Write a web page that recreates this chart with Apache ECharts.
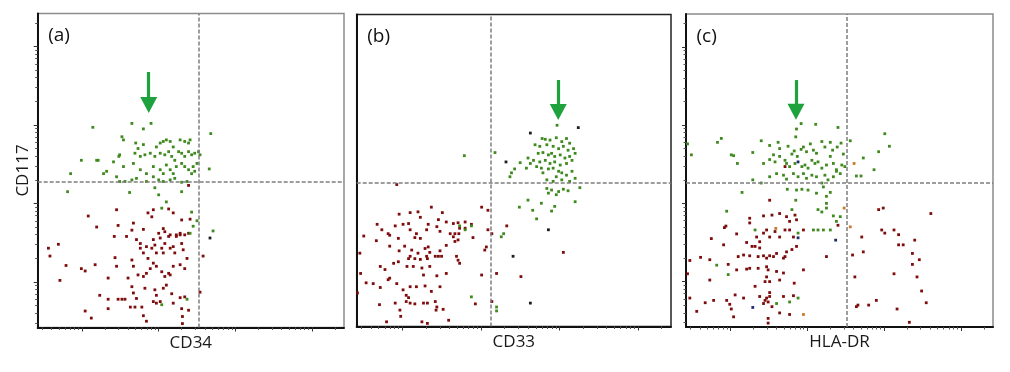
<!DOCTYPE html>
<html><head><meta charset="utf-8">
<script src="https://cdn.jsdelivr.net/npm/echarts@6/dist/echarts.min.js"></script>
<style>html,body{margin:0;padding:0;background:#fff}#c{width:1010px;height:372px}</style>
</head><body><div id="c"></div>
<script>
// ---- data (values in log10 decades of fluorescence intensity) ----
const panelLabels = ['(a)', '(b)', '(c)'];
const xNames = ['CD34', 'CD33', 'HLA-DR'];
const yName = 'CD117';
const axisMin = 0.42, axisMax = 4.42;
const decades = [0, 1, 2, 3, 4];
const multipliers = [1, 2, 3, 4, 5, 6, 7, 8, 9];
const gateX = [2.52, 2.12, 2.51];
const gateY = [2.28, 2.26, 2.26];
const arrowX = [1.87, 2.985, 1.853];
const arrowTop = [3.675, 3.58, 3.576];
const arrowHead = [3.254, 3.17, 3.17];

const aGreen = [[1.14,2.97],[1.65,3.02],[1.80,2.95],[1.90,3.02],[2.68,2.89],[1.52,2.85],[1.54,2.81],[1.70,2.77],[1.80,2.75],[1.73,2.70],[1.97,2.72],[2.02,2.77],[2.06,2.79],[2.10,2.81],[2.15,2.79],[2.19,2.72],[2.28,2.81],[2.34,2.79],[2.39,2.77],[2.41,2.81],
[0.99,2.55],[1.19,2.55],[1.21,2.55],[1.41,2.53],[1.48,2.60],[1.49,2.62],[1.69,2.64],[1.76,2.60],[1.82,2.62],[1.89,2.64],[1.95,2.60],[2.02,2.64],[2.08,2.62],[2.13,2.66],[2.17,2.60],[2.21,2.55],[2.26,2.66],[2.30,2.64],[2.34,2.60],[2.39,2.66],[2.43,2.62],[2.47,2.64],[2.52,2.66],[2.54,2.62],[2.50,2.51],[2.45,2.47],
[1.54,2.47],[1.67,2.51],[1.76,2.43],[1.84,2.38],[1.93,2.47],[2.02,2.43],[2.06,2.38],[2.10,2.49],[2.15,2.43],[2.19,2.38],[2.23,2.47],[2.30,2.51],[2.34,2.47],[2.39,2.43],[2.43,2.38],[2.47,2.41],
[0.85,2.38],[1.28,2.38],[1.32,2.41],[1.45,2.34],[1.49,2.28],[1.56,2.28],[1.65,2.30],[1.71,2.32],[1.84,2.28],[1.93,2.34],[2.00,2.30],[2.06,2.28],[2.15,2.30],[2.21,2.32],[2.30,2.27],[2.37,2.28],[2.66,2.44],
[0.81,2.15],[1.62,2.14],[1.95,2.20],[2.00,2.11],[2.30,2.15],[2.10,2.02],[2.04,1.94],[2.43,1.89],[2.50,1.78],[2.45,1.71],[2.41,1.62],[2.71,1.65],[2.37,0.78],[2.04,0.71]];
const aRed = [[2.39,2.23],[1.45,1.92],[1.08,1.84],[1.19,1.70],[1.47,1.72],[1.67,1.75],[1.80,1.67],[1.86,1.88],[1.93,1.92],[1.91,1.83],[2.13,1.93],[2.19,1.88],[2.30,1.79],[2.41,1.80],[2.06,1.68],[2.08,1.64],[2.15,1.60],[2.23,1.60],[2.28,1.60],[2.34,1.60],[2.39,1.62],
[0.56,1.43],[0.69,1.48],[0.58,1.33],[0.79,1.21],[0.71,1.02],[0.99,1.17],[1.04,1.14],[1.17,1.22],[1.34,1.05],[1.23,0.83],[1.34,0.78],[1.34,0.66],[1.47,0.78],[1.52,0.78],[1.56,0.78],[1.63,0.68],[1.69,0.68],[1.78,0.68],[1.04,0.63],[1.12,0.54],[1.80,0.57],[1.84,0.50],
[1.42,1.58],[1.43,1.31],[1.45,1.20],[1.58,1.58],[1.65,1.66],[1.65,1.28],[1.71,1.54],[1.76,1.49],[1.76,1.43],[1.80,1.37],[1.84,1.45],[1.86,1.30],[1.91,1.43],[1.93,1.54],[1.95,1.47],[1.97,1.37],[2.00,1.62],[2.02,1.56],[2.04,1.43],[2.06,1.37],[2.08,1.49],[2.13,1.58],[2.15,1.43],[2.19,1.45],[2.21,1.37],[2.23,1.58],[2.28,1.62],[2.30,1.49],[2.32,1.41],[2.37,1.30],[2.34,1.17],[2.28,1.22],[2.19,1.20],[2.13,1.11],[2.08,1.07],[2.04,1.13],[1.97,1.20],[1.93,1.24],[1.89,1.17],[1.84,1.11],[1.80,1.07],[1.73,1.09],[1.67,1.20],
[1.65,0.94],[1.67,0.86],[1.82,0.92],[1.95,0.90],[1.97,0.83],[2.06,0.92],[2.10,0.96],[2.15,1.09],[2.17,0.85],[2.19,0.73],[2.28,0.80],[2.34,0.81],[2.30,0.66],[2.39,0.64],[2.31,0.56],[2.31,0.47],[1.93,0.75],[1.97,0.73],[2.02,0.75],[1.71,0.79],[1.60,1.05],[2.58,1.33],[2.54,0.87]];
const aDark = [[2.67,1.56]];

const bGreen = [[2.97,3.00],[2.78,2.83],[2.82,2.82],[2.88,2.81],[2.96,2.84],[3.03,2.79],[3.09,2.83],[3.13,2.77],[2.69,2.75],[2.75,2.73],[2.84,2.75],[2.92,2.73],[2.99,2.70],[3.05,2.73],[3.11,2.68],[3.18,2.70],
[2.73,2.64],[2.79,2.65],[2.86,2.62],[2.90,2.64],[2.94,2.60],[3.01,2.62],[3.07,2.58],[3.13,2.60],[3.20,2.64],[2.60,2.58],[2.67,2.55],[2.75,2.53],[2.82,2.55],[2.88,2.51],[2.94,2.53],[3.01,2.49],[3.09,2.51],[3.16,2.55],
[2.63,2.51],[2.71,2.47],[2.77,2.45],[2.86,2.44],[2.92,2.45],[2.99,2.41],[3.03,2.39],[3.09,2.36],[3.16,2.41],[2.58,2.45],[2.79,2.39],[2.84,2.30],[2.92,2.28],[2.96,2.34],[3.03,2.30],[3.13,2.28],[3.20,2.32],
[2.84,2.19],[2.90,2.17],[2.99,2.15],[3.05,2.18],[3.11,2.16],[3.26,2.20],[2.86,2.13],[2.96,2.11],[2.50,2.52],[2.39,2.39],[2.43,2.44],[2.37,2.34],[2.18,2.65],[1.79,2.61],
[2.60,2.04],[2.66,1.91],[2.71,1.80],[2.77,2.00],[2.90,1.90],[2.94,1.96],[3.20,2.02],[2.49,1.95],[2.29,1.61],[2.26,1.57],[1.88,0.80],[2.20,0.67],[2.20,0.62],[1.73,1.71],[1.80,1.66],[1.88,1.71]];
const bRed = [[2.33,1.71],[2.51,1.06],[3.05,1.37],[0.93,2.24],[2.01,1.95],[2.09,1.91],[2.14,1.61],[2.09,1.66],[2.07,1.44],[2.05,1.40],[2.01,1.08],[2.20,1.10],[2.14,0.74],[1.93,0.71],
[0.96,1.86],[1.10,1.88],[1.20,1.89],[1.23,1.82],[1.37,1.95],[1.51,1.88],[1.46,1.79],[1.56,1.76],[1.65,1.74],[1.71,1.75],[1.80,1.76],[1.73,1.68],[1.80,1.68],[1.88,1.73],[1.90,1.56],[1.72,1.61],
[0.68,1.73],[0.74,1.66],[0.82,1.61],[0.84,1.59],[0.91,1.71],[1.01,1.73],[1.08,1.74],[1.10,1.66],[1.18,1.61],[1.16,1.56],[1.23,1.55],[1.31,1.66],[1.33,1.73],[1.44,1.70],[1.48,1.64],[1.61,1.61],[1.65,1.57],[1.67,1.61],[1.71,1.53],
[0.51,1.58],[0.67,1.52],[0.84,1.45],[0.95,1.55],[0.96,1.39],[1.03,1.45],[1.12,1.40],[1.20,1.36],[1.29,1.42],[1.33,1.44],[1.35,1.37],[1.42,1.32],[1.46,1.32],[1.48,1.39],[1.56,1.46],[1.67,1.51],[1.69,1.32],[1.71,1.27],[1.73,1.23],[1.50,1.32],[1.10,1.32],[1.16,1.29],[1.23,1.28],[1.31,1.32],[1.32,1.29],
[0.46,1.36],[0.72,1.19],[0.78,1.15],[0.89,1.23],[0.95,1.25],[1.06,1.19],[1.08,1.29],[1.14,1.19],[1.25,1.17],[1.27,1.08],[1.35,1.19],[1.44,1.07],[1.48,0.93],[1.56,1.10],
[0.47,1.10],[0.54,0.98],[0.63,0.97],[0.72,0.92],[0.82,1.02],[0.84,1.04],[0.93,0.97],[1.01,0.89],[1.10,0.93],[1.18,0.93],[1.29,0.94],[1.37,0.87],
[0.43,0.85],[0.71,0.70],[0.91,0.72],[0.97,0.63],[1.05,0.82],[1.08,0.79],[1.10,0.72],[1.16,0.71],[1.27,0.72],[1.32,0.72],[1.42,0.74],[1.44,0.67],[1.52,0.64],[1.59,0.50],[0.80,0.48],[0.98,0.55],[1.25,0.48],[1.32,0.46],[1.43,0.63],[1.05,0.74]];
const bDark = [[3.24,2.97],[2.63,2.90],[2.32,2.53],[2.86,1.66],[2.63,0.72],[2.41,1.32]];

const cGreen = [[1.86,2.95],[1.92,3.02],[2.11,3.01],[2.40,2.97],[1.85,2.85],[3.01,2.89],[3.07,2.73],[0.88,2.83],[0.83,2.78],[0.49,2.62],[0.44,2.76],
[1.01,2.62],[1.04,2.61],[1.09,2.51],[1.29,2.65],[1.40,2.80],[1.51,2.74],[1.56,2.62],[1.62,2.78],[1.64,2.70],[1.75,2.73],[1.80,2.63],[1.83,2.67],[1.87,2.60],[1.92,2.69],[1.95,2.72],[1.99,2.66],[2.04,2.76],[2.08,2.68],[2.12,2.64],[2.19,2.79],[2.23,2.72],[2.30,2.78],[2.33,2.68],[2.39,2.72],[2.44,2.77],[2.56,2.80],[2.47,2.63],
[1.43,2.51],[1.51,2.56],[1.58,2.53],[1.64,2.60],[1.71,2.55],[1.73,2.51],[1.77,2.47],[1.84,2.51],[1.93,2.47],[1.97,2.49],[2.01,2.45],[2.06,2.55],[2.10,2.51],[2.14,2.53],[2.19,2.45],[2.25,2.49],[2.30,2.60],[2.34,2.51],[2.38,2.43],[2.45,2.49],[2.49,2.47],[2.73,2.58],[2.87,2.43],[2.93,2.66],
[1.29,2.30],[1.40,2.26],[1.51,2.34],[1.60,2.38],[1.69,2.36],[1.73,2.31],[1.82,2.38],[1.88,2.34],[1.95,2.38],[1.99,2.32],[2.06,2.36],[2.12,2.34],[2.19,2.26],[2.23,2.36],[2.27,2.30],[2.34,2.34],[2.38,2.41],[2.43,2.38],[2.64,2.35],[2.70,2.35],
[1.15,2.14],[1.74,2.18],[1.86,2.17],[1.93,2.18],[2.01,2.17],[2.12,2.13],[2.21,2.21],[2.25,2.09],[2.30,2.14],[1.85,2.04],[2.25,2.00],[2.14,1.92],[2.19,1.89],[2.25,1.94],[2.34,1.84],[2.38,1.77],[2.08,1.66],[2.14,1.66],[2.21,1.66],[2.30,1.66],[2.43,1.83],
[1.32,1.66],[0.95,1.90],[0.82,1.21],[0.97,1.09],[1.88,1.62],[1.88,0.79],[1.77,0.74],[1.60,0.72],[1.80,1.92]];
const cRed = [[1.71,2.47],[1.51,2.04],[2.93,1.92],[2.99,1.94],[3.61,1.87],[2.97,1.66],[3.01,1.62],[3.13,1.66],[3.19,1.60],[3.19,1.47],[3.25,1.47],[3.40,1.53],[3.37,1.36],[3.46,1.28],[3.37,1.22],[3.43,1.06],[3.49,0.88],[3.55,0.73],[3.13,1.10],[3.33,0.48],[2.90,0.76],[3.17,0.65],[2.80,0.70],[2.66,0.70],[2.64,0.68],[2.62,1.06],[2.59,1.34],[2.71,1.57],[2.73,1.38],[2.25,1.32],[2.40,1.72],
[1.25,1.81],[1.25,1.75],[1.43,1.84],[1.54,1.85],[1.64,1.87],[1.73,1.83],[1.77,1.77],[1.86,1.79],[1.84,1.85],
[0.94,1.71],[0.92,1.69],[1.08,1.61],[1.21,1.50],[1.28,1.45],[1.34,1.57],[1.38,1.51],[1.43,1.62],[1.47,1.66],[1.51,1.57],[1.58,1.64],[1.64,1.57],[1.71,1.66],[1.77,1.66],[1.82,1.57],[1.95,1.66],[1.38,1.43],[1.32,1.45],
[0.75,1.55],[0.91,1.47],[1.10,1.32],[1.17,1.34],[1.25,1.33],[1.36,1.32],[1.43,1.33],[1.47,1.30],[1.51,1.33],[1.56,1.32],[1.60,1.36],[1.69,1.30],[1.71,1.32],[1.73,1.38],[1.80,1.41],[1.86,1.45],[1.47,1.19],[1.49,1.15],[1.36,1.17],
[0.61,1.31],[0.73,1.28],[0.47,1.27],[0.97,1.22],[1.08,1.15],[1.21,1.16],[1.25,1.17],[1.47,1.06],[1.51,1.00],[1.60,1.13],[1.64,1.02],[1.69,1.11],[1.83,0.98],[1.95,1.15],
[0.44,1.10],[0.73,1.02],[1.32,0.94],[1.45,1.00],[1.47,0.79],[1.51,0.81],[1.45,0.76],[1.51,0.86],[1.69,0.81],[1.82,0.82],[1.49,0.74],[1.54,0.68],
[0.47,0.79],[0.67,0.73],[0.78,0.76],[0.95,0.76],[0.99,0.71],[1.06,0.83],[1.01,0.65],[1.04,0.55],[1.17,0.79],[1.38,0.81],[1.43,0.72],[1.49,0.53],[1.49,0.47],[1.77,0.58],[1.64,0.60],[0.56,0.62]];
const cNavy = [[1.88,2.53],[1.88,1.56],[2.37,1.53],[1.29,0.67]];
const cOrange = [[2.61,2.51],[2.48,1.94],[2.56,1.70],[1.59,1.68],[1.95,0.58]];

// ---- tick positions on the log axes ----
const minorTicks = decades.flatMap(d => multipliers.map(m => +(d + Math.log10(m)).toFixed(4)))
  .filter(v => v >= axisMin && v <= axisMax);
const majorTicks = decades.filter(v => v >= axisMin && v <= axisMax);

// ---- layout / style ----
const FONT = '"Open Sans", "DejaVu Sans", sans-serif';
const layout = [
  {left: 37.7, top: 13.5, width: 306.3, height: 314, border: '#8c8c8c', yTicks: true},
  {left: 356.7, top: 14.5, width: 314.3, height: 312, border: '#222', yTicks: false},
  {left: 686, top: 14, width: 307, height: 313, border: '#8c8c8c', yTicks: true}
];
const GREEN = '#3f8a1e', RED = '#7e0c0c', DARK = '#1e1e1e', NAVY = '#1d2a70', ORANGE = '#c77a2c';
const ARROW = '#1ea23d';
const panels = [
  {green: aGreen, red: aRed, extra: [[aDark, DARK]]},
  {green: bGreen, red: bRed, extra: [[bDark, DARK]]},
  {green: cGreen, red: cRed, extra: [[cNavy, NAVY], [cOrange, ORANGE]]}
];

const grid = [], xAxis = [], yAxis = [], series = [], title = [];
layout.forEach((g, i) => {
  grid.push({left: g.left, top: g.top, width: g.width, height: g.height, show: true,
    borderColor: g.border, borderWidth: 1.5, backgroundColor: 'transparent', containLabel: false, outerBoundsMode: 'none'});
  const base = {gridIndex: i, type: 'value', min: axisMin, max: axisMax, axisLabel: {show: false}, splitLine: {show: false}};
  xAxis.push(Object.assign({}, base, {
    position: 'bottom',
    axisLine: {show: true, onZero: false, lineStyle: {color: '#111', width: 2}},
    axisTick: {show: true, customValues: minorTicks, length: 2.5, lineStyle: {color: '#555', width: 1}},
    name: xNames[i], nameLocation: 'middle', nameGap: 7,
    nameTextStyle: {fontFamily: FONT, fontSize: 17, color: '#1a1a1a', verticalAlign: 'top'}
  }));
  xAxis.push(Object.assign({}, base, {
    position: 'bottom', axisLine: {show: false},
    axisTick: {show: true, customValues: majorTicks, length: 4, lineStyle: {color: '#333', width: 1}}
  }));
  yAxis.push(Object.assign({}, base, {
    position: 'left',
    axisLine: {show: true, onZero: false, lineStyle: {color: '#111', width: 2}},
    axisTick: {show: g.yTicks, customValues: minorTicks, length: 2.5, lineStyle: {color: '#555', width: 1}},
    name: i === 0 ? yName : '', nameLocation: 'middle', nameGap: 6,
    nameTextStyle: {fontFamily: FONT, fontSize: 17, color: '#1a1a1a'}
  }));
  yAxis.push(Object.assign({}, base, {
    position: 'left', axisLine: {show: false},
    axisTick: {show: g.yTicks, customValues: majorTicks, length: 4, lineStyle: {color: '#333', width: 1}}
  }));
  title.push({text: panelLabels[i], left: g.left + 5.5, top: g.top + 8,
    textStyle: {fontFamily: FONT, fontSize: 19, fontWeight: 'normal', color: '#111'}});

  const p = panels[i];
  const common = {type: 'scatter', xAxisIndex: 2 * i, yAxisIndex: 2 * i, symbol: 'rect', symbolSize: 2.8,
    silent: true, animation: false};
  series.push(Object.assign({}, common, {
    name: 'red' + i, data: p.red, itemStyle: {color: RED, opacity: 1},
    markLine: {silent: true, symbol: ['none', 'none'], animation: false, label: {show: false},
      lineStyle: {type: [4, 2], color: '#7e7e7e', width: 1.5},
      data: [{xAxis: gateX[i]}, {yAxis: gateY[i]}]}
  }));
  series.push(Object.assign({}, common, {
    name: 'green' + i, data: p.green, itemStyle: {color: GREEN, opacity: 1},
    markLine: {silent: true, animation: false, label: {show: false},
      symbol: ['none', 'triangle'], symbolSize: [17, 16],
      lineStyle: {type: 'solid', color: ARROW, width: 3.2},
      itemStyle: {color: ARROW},
      data: [[{coord: [arrowX[i], arrowTop[i]]}, {coord: [arrowX[i], arrowHead[i]]}]]}
  }));
  p.extra.forEach(([d, col], k) => series.push(Object.assign({}, common, {name: 'x' + i + k, data: d, itemStyle: {color: col, opacity: 1}})));
});

const chart = echarts.init(document.getElementById('c'), null, {renderer: 'canvas'});
chart.setOption({animation: false, backgroundColor: '#fff', title, grid, xAxis, yAxis, series});
</script></body></html>
